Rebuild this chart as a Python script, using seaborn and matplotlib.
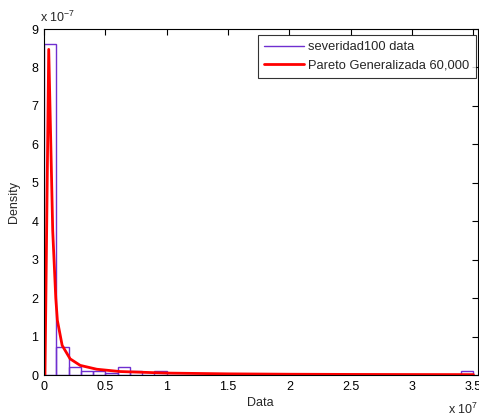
import numpy as np
import pandas as pd
import matplotlib
matplotlib.use("Agg")
import matplotlib.pyplot as plt
import seaborn as sns
from matplotlib.ticker import FuncFormatter
from matplotlib.lines import Line2D

sns.set_style("white")
plt.rcParams['font.family'] = ['Liberation Sans', 'DejaVu Sans']
plt.rcParams['mathtext.fontset'] = 'custom'
plt.rcParams['mathtext.rm'] = 'Liberation Sans'
plt.rcParams['mathtext.it'] = 'Liberation Sans'
plt.rcParams['mathtext.default'] = 'regular'

# Histogram (density); bins of width 1e6 from 0 to 3.5e7
bin_edges = [i * 1e6 for i in range(36)]
bin_density = [8.6e-7, 0.74e-7, 0.21e-7, 0.11e-7, 0.11e-7, 0.05e-7, 0.21e-7, 0.11e-7, 0.0, 0.11e-7] \
    + [0.0] * 24 + [0.11e-7]
bin_centers = [(a + b) / 2 for a, b in zip(bin_edges[:-1], bin_edges[1:])]

# Fitted Generalized Pareto pdf
curve_x = [0.008e7, 0.0385e7, 0.071e7, 0.096e7, 0.109e7, 0.148e7, 0.213e7, 0.295e7,
           0.43e7, 0.62e7, 1.0e7, 1.5e7, 2.0e7, 2.5e7, 3.0e7, 3.5e7]
curve_y = [0.0, 8.47e-7, 3.75e-7, 2.0e-7, 1.42e-7, 0.77e-7, 0.42e-7, 0.25e-7,
           0.15e-7, 0.09e-7, 0.05e-7, 0.03e-7, 0.02e-7, 0.015e-7, 0.012e-7, 0.01e-7]

x_ticks = [0, 0.5e7, 1e7, 1.5e7, 2e7, 2.5e7, 3e7, 3.5e7]
y_ticks = [i * 1e-7 for i in range(10)]

purple = '#6F2FD0'
red = '#FF0000'
fs = 9

hist_df = pd.DataFrame({'x': bin_centers, 'w': bin_density})
curve_df = pd.DataFrame({'x': curve_x, 'y': curve_y})

fig = plt.figure(figsize=(4.79, 4.19), dpi=100)
W, H = 479, 419
ax = fig.add_axes([44 / W, 1 - 375 / H, (477.5 - 44) / W, (375 - 29) / H])

sns.histplot(data=hist_df, x='x', weights='w', bins=bin_edges, stat='count',
             fill=False, color=purple, linewidth=1.0, ax=ax)
sns.lineplot(data=curve_df, x='x', y='y', color=red, linewidth=2, ax=ax,
             estimator=None, sort=False)

ax.set_xlim(0, 3.533e7)
ax.set_ylim(0, 9e-7)
ax.set_xticks(x_ticks)
ax.set_yticks(y_ticks)
ax.xaxis.set_major_formatter(FuncFormatter(lambda v, p: f"{v/1e7:g}"))
ax.yaxis.set_major_formatter(FuncFormatter(lambda v, p: f"{round(v/1e-7):d}"))
ax.tick_params(direction='in', length=4, width=0.8, top=True, right=True,
               labelsize=fs, pad=4, colors='black')
for s in ax.spines.values():
    s.set_color('black')
    s.set_linewidth(0.8)

ax.set_xlabel('Data', fontsize=fs, labelpad=3)
ax.set_ylabel('Density', fontsize=fs, labelpad=8)
fig.text(448 / W, 1 - 409 / H, r'x 10$^{7}$', fontsize=fs, ha='left', va='center')
fig.text(40 / W, 1 - 17 / H, r'x 10$^{-7}$', fontsize=fs, ha='left', va='center')

handles = [Line2D([], [], color=purple, linewidth=1.0),
           Line2D([], [], color=red, linewidth=2)]
leg = ax.legend(handles, ['severidad100 data', 'Pareto Generalizada 60,000'],
                loc='upper right', bbox_to_anchor=(476 / W, 1 - 35 / H),
                bbox_transform=fig.transFigure, fontsize=9.3, frameon=True,
                fancybox=False, edgecolor='black', handlelength=3.1,
                handletextpad=0.3, borderpad=0.5, labelspacing=0.45,
                borderaxespad=0)
leg.get_frame().set_linewidth(0.8)

fig.savefig('out.png', dpi=100, facecolor='white')
